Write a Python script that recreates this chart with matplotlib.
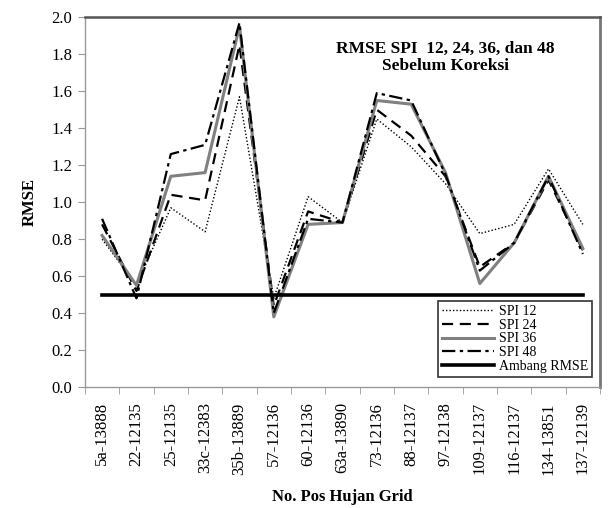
import matplotlib
matplotlib.use("Agg")
import matplotlib.pyplot as plt
from matplotlib.ticker import MultipleLocator, FixedLocator, NullFormatter

plt.rcParams["font.family"] = ["Liberation Serif", "DejaVu Serif"]

stations = ["5a-13888", "22-12135", "25-12135", "33c-12383", "35b-13889",
            "57-12136", "60-12136", "63a-13890", "73-12136", "88-12137",
            "97-12138", "109-12137", "116-12137", "134-13851", "137-12139"]

spi12 = [0.80, 0.55, 0.97, 0.84, 1.57, 0.48, 1.03, 0.89, 1.45, 1.30, 1.10, 0.83, 0.88, 1.18, 0.88]
spi24 = [0.88, 0.52, 1.04, 1.01, 1.85, 0.44, 0.95, 0.89, 1.50, 1.36, 1.14, 0.65, 0.78, 1.12, 0.74]
spi36 = [0.82, 0.55, 1.14, 1.16, 1.95, 0.38, 0.88, 0.89, 1.55, 1.53, 1.16, 0.56, 0.78, 1.14, 0.75]
spi48 = [0.91, 0.48, 1.26, 1.31, 1.97, 0.40, 0.91, 0.89, 1.59, 1.55, 1.15, 0.63, 0.78, 1.14, 0.72]
threshold = 0.5

fig = plt.figure(figsize=(6.11, 5.08), dpi=100)
ax = fig.add_axes([0.139, 0.238, 0.843, 0.728])

x = list(range(len(stations)))
ax.plot(x, spi12, color="black", lw=1.0, linestyle=(0, (1, 1.5)), label="SPI 12")
ax.plot(x, spi24, color="black", lw=1.6, linestyle=(0, (5, 3)), label="SPI 24")
ax.plot(x, spi36, color="#808080", lw=2.2, linestyle="-", label="SPI 36")
ax.plot(x, spi48, color="black", lw=1.6, linestyle=(0, (6, 2, 1.5, 2)), label="SPI 48")
ax.plot([x[0], x[-1]], [threshold, threshold], color="black", lw=2.6, label="Ambang RMSE")

ax.set_xlim(-0.5, len(stations) - 0.5)
ax.set_ylim(0, 2.0)
ax.yaxis.set_major_locator(MultipleLocator(0.2))
ax.yaxis.set_major_formatter(matplotlib.ticker.FormatStrFormatter("%.1f"))

ax.set_xticks(x)
ax.set_xticklabels(stations, rotation=90, fontsize=12)
ax.tick_params(axis="x", length=0, pad=11)
ax.xaxis.set_minor_locator(FixedLocator([i + 0.5 for i in range(-1, len(stations))]))
ax.xaxis.set_minor_formatter(NullFormatter())
ax.tick_params(axis="x", which="minor", length=5, color="#999999", direction="out")
ax.tick_params(axis="y", length=5, color="#999999", labelsize=12, pad=4)

for side in ["left", "bottom"]:
    ax.spines[side].set_color("#999999")
    ax.spines[side].set_linewidth(1.0)
ax.spines["top"].set_color("#555555")
ax.spines["top"].set_linewidth(1.8)
ax.spines["right"].set_color("#777777")
ax.spines["right"].set_linewidth(2.0)

ax.set_ylabel("RMSE", fontsize=12, fontweight="bold", labelpad=10)
ax.set_xlabel("No. Pos Hujan Grid", fontsize=12, fontweight="bold", labelpad=10)

ax.text(0.70, 0.935, "RMSE SPI  12, 24, 36, dan 48\nSebelum Koreksi",
        transform=ax.transAxes, ha="center", va="top", fontsize=12.5,
        fontweight="bold", linespacing=1.05)

leg = ax.legend(loc="lower right", bbox_to_anchor=(0.99, 0.02), fontsize=10,
                frameon=True, fancybox=False, edgecolor="black",
                handlelength=3.8, handletextpad=0.3, labelspacing=0.05,
                borderpad=0.3, borderaxespad=0.2)
leg.get_frame().set_linewidth(1.2)

fig.savefig("out.png", dpi=100)
